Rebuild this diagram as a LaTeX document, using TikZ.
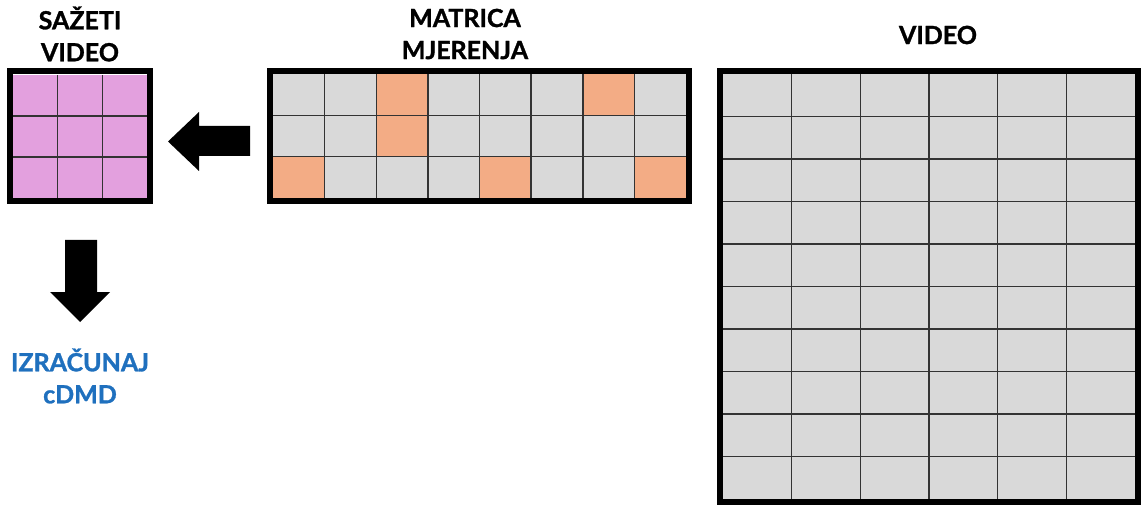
\documentclass[tikz,border=0pt]{standalone}
\usepackage{fontspec}
\setmainfont{Lato}[BoldFeatures={FakeBold=1.2}]
\definecolor{cellgray}{RGB}{217,217,217}
\definecolor{cellpink}{RGB}{227,160,222}
\definecolor{cellorange}{RGB}{243,172,133}
\definecolor{labelblue}{RGB}{31,112,190}
\begin{document}
\begin{tikzpicture}[x=1pt,y=-1pt,
  frame/.style={draw=black,line width=6pt,inner sep=0pt,outer sep=0pt},
  gridline/.style={draw=black!80,line width=1.5pt},
  title/.style={font=\fontsize{25}{32}\selectfont\bfseries,align=center,inner sep=0pt},
  blockarrow/.style={fill=black}]
\useasboundingbox (0,0) rectangle (1141,505);
% compressed video grid
\fill[cellpink] (13,75) rectangle (147,198);
\foreach \i in {1,2}{\draw[gridline] (13+\i*44.67,75) -- (13+\i*44.67,198);}
\foreach \j in {1,2}{\draw[gridline] (13,75+\j*41) -- (147,75+\j*41);}
\node[frame,minimum width=140pt,minimum height=130pt] (sazeti) at (80,136.5) {};
% measurement matrix
\fill[cellgray] (273,74) rectangle (686,198);
\foreach \c/\r in {3/1,7/1,3/2,1/3,5/3,8/3}{
  \fill[cellorange] (273+\c*51.625-51.625,74+\r*41.33-41.33) rectangle (273+\c*51.625,74+\r*41.33);}
\foreach \i in {1,...,7}{\draw[gridline] (273+\i*51.625,74) -- (273+\i*51.625,198);}
\foreach \j in {1,2}{\draw[gridline] (273,74+\j*41.33) -- (686,74+\j*41.33);}
\node[frame,minimum width=419pt,minimum height=130pt] (matrica) at (479.5,136) {};
% video grid
\fill[cellgray] (723,74) rectangle (1135,499);
\foreach \i in {1,...,5}{\draw[gridline] (723+\i*68.67,74) -- (723+\i*68.67,499);}
\foreach \j in {1,...,9}{\draw[gridline] (723,74+\j*42.5) -- (1135,74+\j*42.5);}
\node[frame,minimum width=418pt,minimum height=431pt] (video) at (929,286.5) {};
% titles
\node[title] (tsazeti) at (80,34) {SAŽETI\\VIDEO};
\node[title] (tmatrica) at (465,34) {MATRICA\\MJERENJA};
\node[title] (tvideo) at (938,35) {VIDEO};
\node[title,text=labelblue] (racun) at (80,376) {IZRAČUNAJ\\cDMD};
% block arrows
\fill[blockarrow] (250,126) -- (199,126) -- (199,112) -- (168,141.5) -- (199,171) -- (199,156) -- (250,156) -- cycle;
\fill[blockarrow] (65,240) -- (97,240) -- (97,292) -- (110,292) -- (80,322) -- (50,292) -- (65,292) -- cycle;
\end{tikzpicture}
\end{document}
